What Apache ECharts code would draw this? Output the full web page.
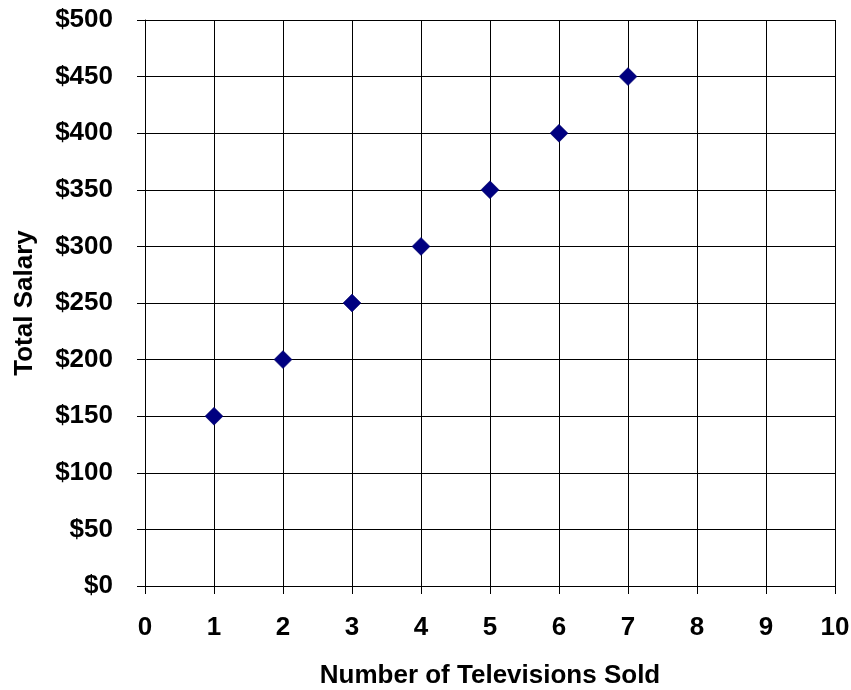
<!DOCTYPE html>
<html><head><meta charset="utf-8">
<script src="https://cdn.jsdelivr.net/npm/echarts@6/dist/echarts.min.js"></script>
<style>html,body{margin:0;padding:0;background:#fff}#c{width:851px;height:690px}</style>
</head><body><div id="c"></div>
<script>
const televisionsSold = [1, 2, 3, 4, 5, 6, 7];
const totalSalary = [150, 200, 250, 300, 350, 400, 450];
const xTitle = 'Number of Televisions Sold';
const yTitle = 'Total Salary';

const chart = echarts.init(document.getElementById('c'));
const font = 'Liberation Sans, Arial, sans-serif';
chart.setOption({
  animation: false,
  grid: {left: 145, right: 16, top: 20, bottom: 104, containLabel: false, outerBoundsMode: 'none'},
  xAxis: {
    type: 'value', min: 0, max: 10, interval: 1,
    name: xTitle, nameLocation: 'middle', nameGap: 77,
    nameTextStyle: {fontFamily: font, fontWeight: 'bold', fontSize: 26, color: '#000'},
    axisLine: {show: true, lineStyle: {color: '#000', width: 1}},
    axisTick: {show: true, length: 8, lineStyle: {color: '#000'}},
    axisLabel: {margin: 29, fontFamily: font, fontWeight: 'bold', fontSize: 26, color: '#000'},
    splitLine: {show: true, lineStyle: {color: '#000', width: 1}}
  },
  yAxis: {
    type: 'value', min: 0, max: 500, interval: 50,
    name: yTitle, nameLocation: 'middle', nameGap: 107, nameRotate: 90,
    nameTextStyle: {fontFamily: font, fontWeight: 'bold', fontSize: 26, color: '#000'},
    axisLine: {show: true, lineStyle: {color: '#000', width: 1}},
    axisTick: {show: true, length: 8, lineStyle: {color: '#000'}},
    axisLabel: {margin: 32, fontFamily: font, fontWeight: 'bold', fontSize: 26, color: '#000',
      formatter: v => '$' + v},
    splitLine: {show: true, lineStyle: {color: '#000', width: 1}}
  },
  series: [{
    type: 'scatter',
    data: televisionsSold.map((x, i) => [x, totalSalary[i]]),
    symbol: 'diamond', symbolSize: [18, 18],
    itemStyle: {color: '#000080', opacity: 1, borderColor: '#000060', borderWidth: 0.5}
  }]
});
</script></body></html>
